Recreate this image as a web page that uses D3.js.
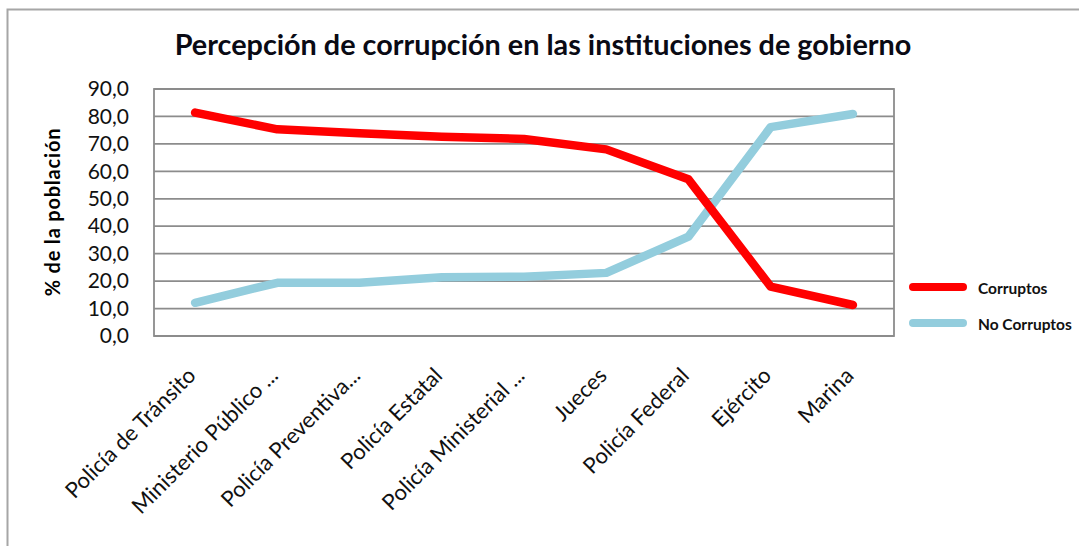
<!doctype html>
<html>
    <head>
        <meta charset="utf-8" />
        <title>Percepción de corrupción</title>
        <script src="https://d3js.org/d3.v7.min.js"></script>
        <style>
            body { margin: 0; background: #fff; }
            svg { font-family: Lato, "Open Sans", sans-serif; }
        </style>
    </head>
    <body>
        <svg width="1079" height="546"></svg>
        <script>
            var categories = ["Policía de Tránsito", "Ministerio Público ...", "Policía Preventiva...",
                "Policía Estatal", "Policía Ministerial ...", "Jueces", "Policía Federal", "Ejército", "Marina"];
            var corruptos = [81.4, 75.3, 73.9, 72.6, 71.8, 68.0, 57.1, 18.0, 11.3];
            var noCorruptos = [12.1, 19.4, 19.4, 21.4, 21.6, 23.0, 36.2, 76.1, 80.9];
            var yTicks = [0, 10, 20, 30, 40, 50, 60, 70, 80, 90];

            var svg = d3.select("svg");

            // outer chart border (right and bottom edges run off the picture)
            svg.append("rect").attr("x", 7.5).attr("y", 9.5).attr("width", 1090).attr("height", 560)
              .style("fill", "none").style("stroke", "#a6a6a6").style("stroke-width", 2);

            var plotL = 154, plotR = 894, plotT = 89, plotB = 336;

            var x = d3.scaleBand().domain(categories).range([plotL, plotR]);
            var y = d3.scaleLinear().domain([0, 90]).range([plotB, plotT]);

            // gridlines
            svg.append("g").selectAll("line").data(yTicks).enter().append("line")
              .attr("x1", plotL).attr("x2", plotR)
              .attr("y1", d => y(d)).attr("y2", d => y(d))
              .style("stroke", "#8c8c8c").style("stroke-width", 1.8);

            svg.append("rect").attr("x", plotL).attr("y", plotT)
              .attr("width", plotR - plotL).attr("height", plotB - plotT)
              .style("fill", "none").style("stroke", "#8c8c8c").style("stroke-width", 1.8);

            // y axis labels
            var yAxis = d3.axisLeft(y).tickValues(yTicks).tickSize(0).tickPadding(25)
              .tickFormat(d => d3.format(".1f")(d).replace(".", ","));
            var ya = svg.append("g").attr("transform", `translate(${plotL},0)`).call(yAxis);
            ya.select(".domain").remove();
            ya.selectAll("text").style("font-size", "21px").style("fill", "#111")
              .style("font-family", "Lato, sans-serif");

            // x axis labels
            var xa = svg.append("g").attr("transform", `translate(0,${plotB})`)
              .call(d3.axisBottom(x).tickSize(0));
            xa.select(".domain").remove();
            xa.selectAll("text")
              .style("font-size", "22px").style("fill", "#111").style("font-family", "Lato, sans-serif")
              .attr("text-anchor", "end").attr("dy", null).attr("y", null)
              .attr("transform", "translate(2,41) rotate(-45)");

            // y title
            svg.append("text").attr("transform", "translate(60,212) rotate(-90)")
              .attr("text-anchor", "middle").style("font-size", "20px").style("font-weight", "bold")
              .style("letter-spacing", "0.8px")
              .text("% de la población");

            // title
            svg.append("text").attr("x", 543).attr("y", 55).attr("text-anchor", "middle")
              .style("font-size", "28.8px").style("font-weight", "bold").style("fill", "#0a0a14")
              .text("Percepción de corrupción en las instituciones de gobierno");

            var line = d3.line().x((d, i) => x(categories[i]) + x.bandwidth() / 2).y(d => y(d));

            var series = [
                { name: "Corruptos", values: corruptos, color: "#ff0000" },
                { name: "No Corruptos", values: noCorruptos, color: "#93cddd" }
            ];

            svg.append("g").selectAll("path").data(series.slice().reverse()).enter().append("path")
              .attr("d", d => line(d.values))
              .style("fill", "none").style("stroke", d => d.color)
              .style("stroke-width", 8.5).style("stroke-linecap", "round").style("stroke-linejoin", "round");

            // legend
            var lg = svg.append("g").selectAll("g").data(series).enter().append("g")
              .attr("transform", (d, i) => `translate(913,${287 + i * 36})`);
            lg.append("line").attr("x1", 0).attr("x2", 50)
              .style("stroke", d => d.color).style("stroke-width", 8).style("stroke-linecap", "round");
            lg.append("text").attr("x", 65).attr("y", 7)
              .style("font-size", "15.5px").style("font-weight", "bold").style("fill", "#111")
              .text(d => d.name);
        </script>
    </body>
</html>
